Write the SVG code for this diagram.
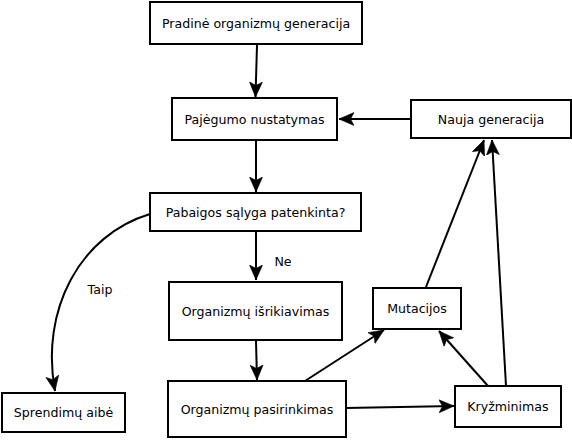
<svg xmlns="http://www.w3.org/2000/svg" width="572" height="440" viewBox="0 0 572 440">
<style>
.box{fill:#fff;stroke:#000;stroke-width:2}
.t{font-family:"DejaVu Sans",Verdana,sans-serif;font-size:12.6px;fill:#000;text-anchor:middle;dominant-baseline:central}
.c{fill:none;stroke:#000;stroke-width:2}
</style>
<defs>
<marker id="a" markerUnits="userSpaceOnUse" markerWidth="16" markerHeight="14" refX="15" refY="7" orient="auto" viewBox="0 0 16 14">
<path d="M0,0.5 L15,7 L0,13.5 L3.5,7 z" fill="#000" stroke="#000" stroke-width="0.6" stroke-linejoin="miter"/>
</marker>
</defs>
<rect width="572" height="440" fill="#fff"/>
<g id="connectors">
<line class="c" x1="257" y1="45" x2="255.5" y2="97" marker-end="url(#a)"/>
<line class="c" x1="256" y1="141" x2="256" y2="192" marker-end="url(#a)"/>
<line class="c" x1="411" y1="119" x2="339" y2="119" marker-end="url(#a)"/>
<line class="c" x1="256" y1="232" x2="256" y2="280" marker-end="url(#a)"/>
<path class="c" d="M150,214 C80,235 40,310 55,391" marker-end="url(#a)"/>
<line class="c" x1="256" y1="341" x2="257" y2="380" marker-end="url(#a)"/>
<line class="c" x1="305" y1="381" x2="384" y2="330" marker-end="url(#a)"/>
<line class="c" x1="346" y1="408" x2="454" y2="406" marker-end="url(#a)"/>
<line class="c" x1="488" y1="386" x2="439" y2="331" marker-end="url(#a)"/>
<line class="c" x1="426" y1="287" x2="484" y2="140" marker-end="url(#a)"/>
<line class="c" x1="506" y1="386" x2="492" y2="140" marker-end="url(#a)"/>
<text class="t" x="283" y="261">Ne</text>
<text class="t" x="100" y="289">Taip</text>
</g>
<g id="n1"><rect class="box" x="150" y="2" width="212" height="42"/><text class="t" x="256" y="23">Pradinė organizmų generacija</text></g>
<g id="n2"><rect class="box" x="172" y="98" width="165" height="42"/><text class="t" x="254.5" y="119">Pajėgumo nustatymas</text></g>
<g id="n3"><rect class="box" x="411" y="100" width="160" height="38"/><text class="t" x="491" y="119">Nauja generacija</text></g>
<g id="n4"><rect class="box" x="150" y="193" width="211" height="38"/><text class="t" x="255.5" y="212">Pabaigos sąlyga patenkinta?</text></g>
<g id="n5"><rect class="box" x="169" y="282" width="173" height="58"/><text class="t" x="255.5" y="311">Organizmų išrikiavimas</text></g>
<g id="n6"><rect class="box" x="373" y="288" width="88" height="41"/><text class="t" x="417" y="308.5">Mutacijos</text></g>
<g id="n7"><rect class="box" x="168" y="381" width="178" height="56"/><text class="t" x="257" y="409">Organizmų pasirinkimas</text></g>
<g id="n8"><rect class="box" x="455" y="386" width="106" height="41"/><text class="t" x="508" y="406.5">Kryžminimas</text></g>
<g id="n9"><rect class="box" x="2" y="393" width="123" height="39"/><text class="t" x="63.5" y="412.5">Sprendimų aibė</text></g>
</svg>
